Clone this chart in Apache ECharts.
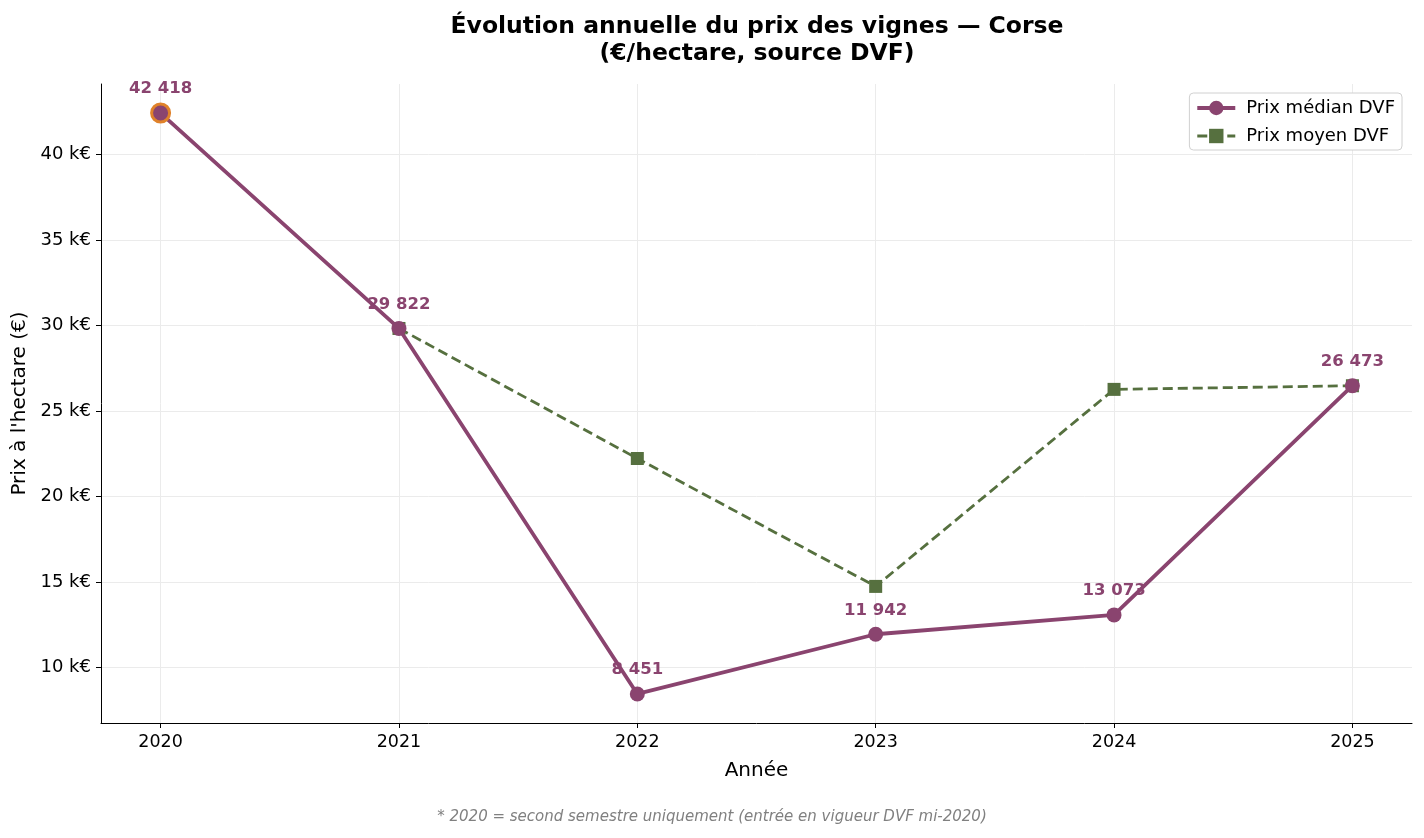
<!DOCTYPE html>
<html><head><meta charset="utf-8">
<script src="https://cdn.jsdelivr.net/npm/echarts@6/dist/echarts.min.js"></script>
<style>html,body{margin:0;padding:0;background:#fff}#c{width:1424px;height:838px}</style>
</head><body><div id="c"></div>
<script>
const years = [2020, 2021, 2022, 2023, 2024, 2025];
const medianPrices = [42418, 29822, 8451, 11942, 13073, 26473];
const meanPrices = [null, 29822, 22220, 14740, 26260, 26473];
const yTicks = [10000, 15000, 20000, 25000, 30000, 35000, 40000];

const PURPLE = '#8a446f';
const GREEN = '#56703f';
const ORANGE = '#e0822a';
const FONT = 'DejaVu Sans';

const fmt = v => String(v).replace(/\B(?=(\d{3})+(?!\d))/g, ' ');

const medianData = years.map((y, i) => {
  const d = { value: [y, medianPrices[i]] };
  if (i === 0) {
    d.itemStyle = { color: PURPLE, borderColor: ORANGE, borderWidth: 3 };
    d.symbolSize = 18;
    d.label = { distance: 5 };
  }
  return d;
});
const meanData = years.map((y, i) => [y, meanPrices[i]]).filter(d => d[1] !== null);

const chart = echarts.init(document.getElementById('c'), null, { renderer: 'canvas' });
chart.setOption({
  animation: false,
  textStyle: { fontFamily: FONT },
  title: {
    text: 'Évolution annuelle du prix des vignes — Corse\n(€/hectare, source DVF)',
    left: 757, top: 13, textAlign: 'center', padding: 0,
    textStyle: { fontFamily: FONT, fontSize: 23.5, fontWeight: 'bold', color: '#000', lineHeight: 27 }
  },
  legend: {
    right: 22, top: 93, orient: 'vertical',
    backgroundColor: '#fff', borderColor: '#d0d0d0', borderWidth: 1, borderRadius: 4,
    padding: [6, 7, 5, 6], itemGap: 10, itemWidth: 38, itemHeight: 18,
    textStyle: { fontFamily: FONT, fontSize: 18, color: '#000', padding: [0, 0, 0, 6] },
    data: [
      { name: 'Prix médian DVF', lineStyle: { width: 3.8 } },
      { name: 'Prix moyen DVF', lineStyle: { width: 2.8 } }
    ]
  },
  grid: { left: 101, right: 12, top: 84, bottom: 115, containLabel: false, outerBoundsMode: 'none' },
  xAxis: {
    type: 'value', min: 2019.75, max: 2025.25,
    name: 'Année', nameLocation: 'middle', nameGap: 38,
    nameTextStyle: { fontFamily: FONT, fontSize: 20, color: '#000' },
    axisLine: { show: true, lineStyle: { color: '#000', width: 1 } },
    axisTick: { show: true, customValues: years, length: 5, lineStyle: { color: '#000' } },
    axisLabel: { customValues: years, fontFamily: FONT, fontSize: 17.5, color: '#000', margin: 10, formatter: v => String(v) },
    splitLine: { show: true, lineStyle: { color: '#ebebeb', width: 1 } }
  },
  yAxis: {
    type: 'value', min: 6753, max: 44116,
    name: "Prix à l'hectare (€)", nameLocation: 'middle', nameGap: 71, nameRotate: 90,
    nameTextStyle: { fontFamily: FONT, fontSize: 20, color: '#000' },
    axisLine: { show: true, lineStyle: { color: '#000', width: 1 } },
    axisTick: { show: true, customValues: yTicks, length: 5, lineStyle: { color: '#000' } },
    axisLabel: { customValues: yTicks, fontFamily: FONT, fontSize: 18, color: '#000', margin: 10, formatter: v => (v / 1000) + ' k€' },
    splitLine: { show: true, lineStyle: { color: '#ebebeb', width: 1 } }
  },
  series: [
    {
      name: 'Prix moyen DVF', type: 'line', data: meanData, z: 2,
      symbol: 'rect', symbolSize: 13,
      itemStyle: { color: GREEN },
      lineStyle: { color: GREEN, width: 2.8, type: [10, 5] }
    },
    {
      name: 'Prix médian DVF', type: 'line', data: medianData, z: 3,
      symbol: 'circle', symbolSize: 15,
      itemStyle: { color: PURPLE },
      lineStyle: { color: PURPLE, width: 3.8 },
      label: {
        show: true, position: 'top', distance: 8,
        fontFamily: FONT, fontSize: 16.5, fontWeight: 'bold', color: PURPLE,
        formatter: p => fmt(p.value[1])
      }
    }
  ],
  graphic: [{
    type: 'text', left: 'center', top: 810,
    style: {
      text: '* 2020 = second semestre uniquement (entrée en vigueur DVF mi-2020)',
      font: 'italic 15px "DejaVu Sans"', fill: '#808080'
    }
  }]
});
</script></body></html>
